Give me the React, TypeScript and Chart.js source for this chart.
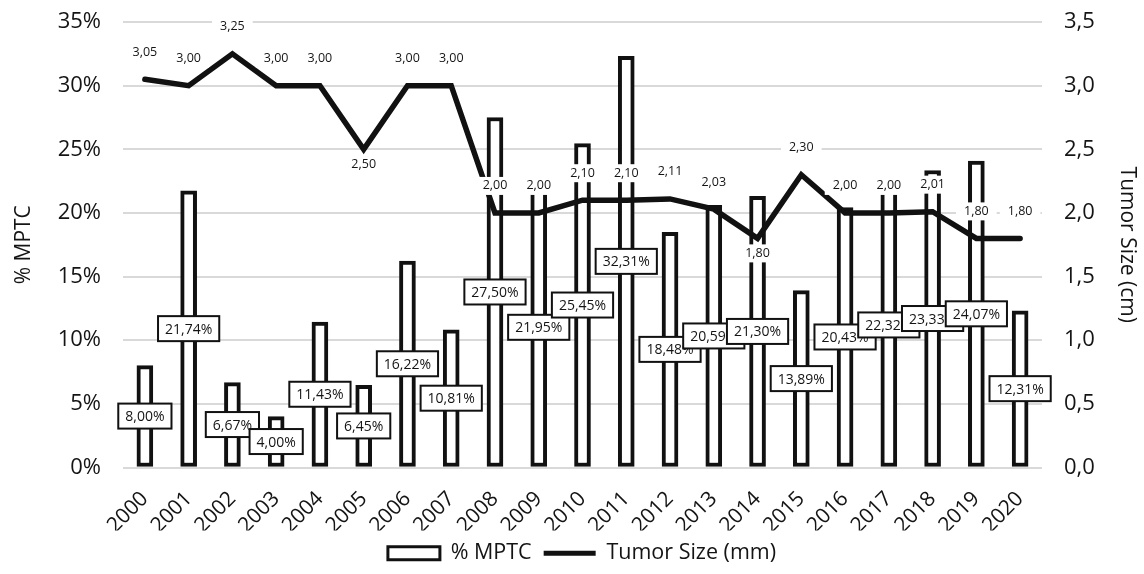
import { useEffect, useRef } from 'react';
import { Chart, registerables } from 'chart.js';

Chart.register(...registerables);

const years = ['2000', '2001', '2002', '2003', '2004', '2005', '2006', '2007', '2008', '2009', '2010', '2011', '2012', '2013', '2014', '2015', '2016', '2017', '2018', '2019', '2020'];
const mptcPercent = [8.0, 21.74, 6.67, 4.0, 11.43, 6.45, 16.22, 10.81, 27.5, 21.95, 25.45, 32.31, 18.48, 20.59, 21.3, 13.89, 20.43, 22.32, 23.33, 24.07, 12.31];
const tumorSize = [3.05, 3.0, 3.25, 3.0, 3.0, 2.5, 3.0, 3.0, 2.0, 2.0, 2.1, 2.1, 2.11, 2.03, 1.8, 2.3, 2.0, 2.0, 2.01, 1.8, 1.8];
const tumorLabelBelow = ['2005', '2014'];

const FONT = '"Open Sans", "DejaVu Sans", sans-serif';
const TEXT = '#141414';

const fmtComma = (v: number, d: number) => v.toFixed(d).replace('.', ',');

const valueLabels = {
  id: 'valueLabels',
  afterDatasetsDraw(chart: any) {
    const ctx = chart.ctx;
    const lineMeta = chart.getDatasetMeta(0);
    const barMeta = chart.getDatasetMeta(1);
    ctx.save();
    ctx.textAlign = 'center';
    ctx.textBaseline = 'middle';

    // line labels (white background, no border)
    ctx.font = `12.5px ${FONT}`;
    lineMeta.data.forEach((el: any, i: number) => {
      const below = tumorLabelBelow.includes(years[i]);
      const cy = below ? el.y + 15 : el.y - 27;
      const text = fmtComma(tumorSize[i], 2);
      const w = ctx.measureText(text).width + 16;
      const h = 18;
      ctx.fillStyle = '#ffffff';
      ctx.fillRect(el.x - w / 2, cy - h / 2, w, h);
      ctx.fillStyle = TEXT;
      ctx.fillText(text, el.x, cy);
    });

    // bar labels (boxed)
    ctx.font = `14px ${FONT}`;
    barMeta.data.forEach((el: any, i: number) => {
      const cy = (el.y + el.base) / 2;
      const text = fmtComma(mptcPercent[i], 2) + '%';
      const w = ctx.measureText(text).width + 14;
      const h = 25;
      ctx.fillStyle = '#ffffff';
      ctx.fillRect(el.x - w / 2, cy - h / 2, w, h);
      ctx.lineWidth = 2;
      ctx.strokeStyle = '#111111';
      ctx.strokeRect(el.x - w / 2, cy - h / 2, w, h);
      ctx.fillStyle = TEXT;
      ctx.fillText(text, el.x, cy + 1);
    });
    ctx.restore();
  },
};

export default function App() {
  const canvasRef = useRef<HTMLCanvasElement>(null);

  useEffect(() => {
    document.body.style.margin = '0';
    const canvas = canvasRef.current;
    if (!canvas) return;
    const chart = new Chart(canvas, {
      type: 'bar',
      data: {
        labels: years,
        datasets: [
          {
            type: 'line',
            label: 'Tumor Size (mm)',
            data: tumorSize,
            yAxisID: 'y1',
            borderColor: '#111111',
            backgroundColor: '#111111',
            borderWidth: 5.5,
            pointRadius: 0,
            borderJoinStyle: 'miter',
            borderCapStyle: 'round',
            tension: 0,
            order: 0,
          } as any,
          {
            type: 'bar',
            label: '% MPTC',
            data: mptcPercent,
            yAxisID: 'y',
            backgroundColor: '#ffffff',
            borderColor: '#111111',
            borderWidth: 4,
            borderSkipped: false,
            barThickness: 16,
            order: 1,
          } as any,
        ],
      },
      options: {
        responsive: false,
        animation: false,
        layout: { padding: { top: 22, left: 20, right: 0, bottom: 0 } },
        plugins: {
          tooltip: { enabled: false },
          legend: {
            position: 'bottom',
            labels: {
              usePointStyle: true,
              pointStyleWidth: 52,
              boxHeight: 13,
              padding: 12,
              color: TEXT,
              font: { family: FONT, size: 21.5 },
              generateLabels: () => [
                { text: '% MPTC', fillStyle: '#ffffff', strokeStyle: '#111111', lineWidth: 3, pointStyle: 'rect', datasetIndex: 1, hidden: false, fontColor: TEXT } as any,
                { text: 'Tumor Size (mm)', fillStyle: '#111111', strokeStyle: '#111111', lineWidth: 5, pointStyle: 'line', datasetIndex: 0, hidden: false, fontColor: TEXT } as any,
              ],
            },
          },
        },
        scales: {
          x: {
            grid: { display: false },
            border: { display: false },
            ticks: {
              color: TEXT,
              font: { family: FONT, size: 21 },
              minRotation: 45,
              maxRotation: 45,
              padding: 11,
            },
            afterFit: (s: any) => {
              s.height = 63;
            },
          },
          y: {
            position: 'left',
            min: 0,
            max: 35,
            ticks: {
              stepSize: 5,
              color: TEXT,
              font: { family: FONT, size: 22 },
              padding: 22,
              callback: (v: any) => `${v}%`,
            },
            grid: { color: '#d9d9d9', lineWidth: 2, drawTicks: false },
            border: { display: false },
            title: {
              display: true,
              text: '% MPTC',
              color: TEXT,
              font: { family: FONT, size: 21 },
              padding: { top: -9, bottom: 0 },
            },
            afterFit: (s: any) => {
              s.width = 103;
              s.paddingTop = 0;
              s.paddingBottom = 0;
            },
          },
          y1: {
            position: 'right',
            min: 0,
            max: 3.5,
            ticks: {
              stepSize: 0.5,
              color: TEXT,
              font: { family: FONT, size: 22 },
              padding: 22,
              callback: (v: any) => fmtComma(Number(v), 1),
            },
            grid: { display: false, drawTicks: false },
            border: { display: false },
            title: {
              display: true,
              text: 'Tumor Size (cm)',
              color: TEXT,
              font: { family: FONT, size: 21 },
              padding: { top: 4, bottom: 0 },
            },
            afterFit: (s: any) => {
              s.width = 102;
              s.paddingTop = 0;
              s.paddingBottom = 0;
            },
          },
        },
      } as any,
      plugins: [valueLabels],
    });
    return () => chart.destroy();
  }, []);

  return (
    <div style={{ width: 1144, height: 574 }}>
      <canvas ref={canvasRef} width={1144} height={574} />
    </div>
  );
}
